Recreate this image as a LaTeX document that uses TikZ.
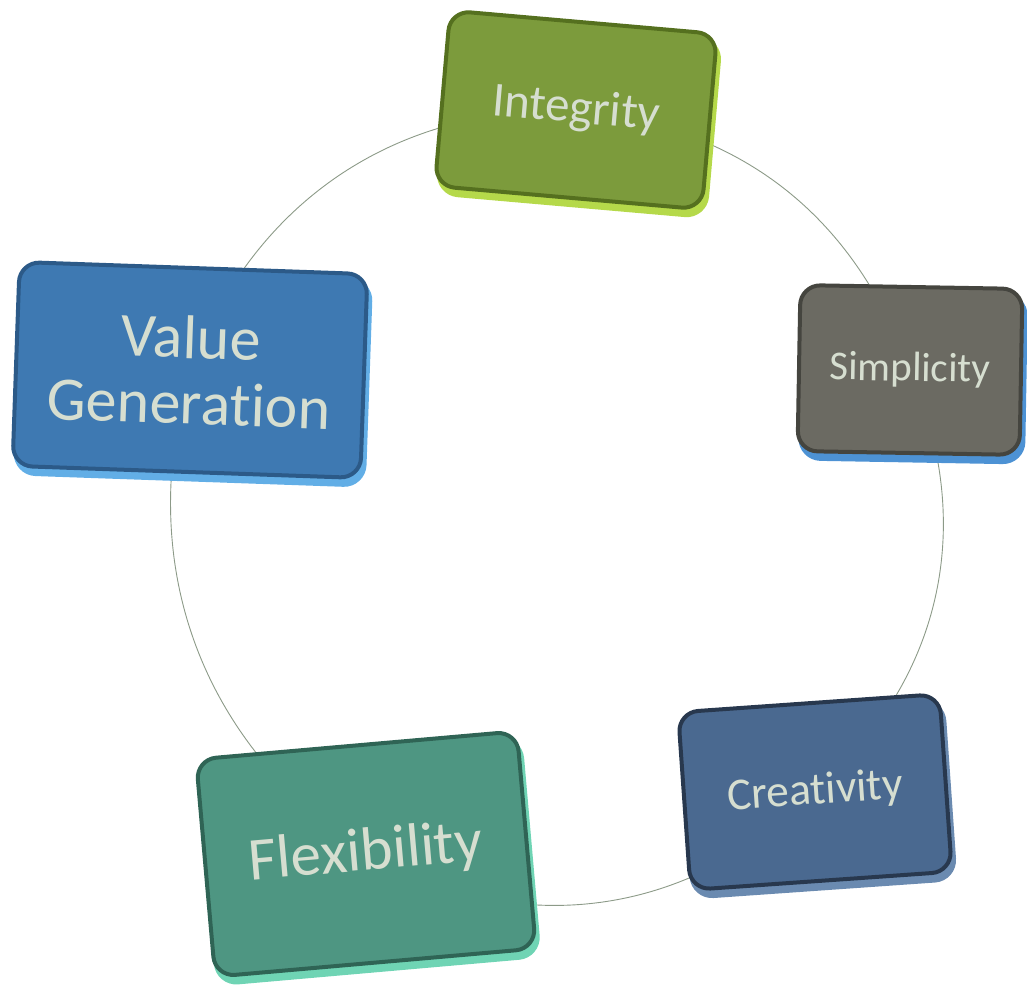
\documentclass[tikz,border=0pt]{standalone}
\usepackage{fontspec}
\setmainfont{Carlito}[Ligatures=NoCommon]
\usetikzlibrary{backgrounds}

\definecolor{txtcol}{HTML}{D6DED0}
\definecolor{ringcol}{HTML}{8C9A88}
% face / rim / bevel colours
\definecolor{intface}{HTML}{7C9B3C}
\definecolor{intrim}{HTML}{55701F}
\definecolor{intbevel}{HTML}{B5D94A}
\definecolor{simface}{HTML}{6B6A62}
\definecolor{simrim}{HTML}{45453F}
\definecolor{simbevel}{HTML}{4D92D4}
\definecolor{creface}{HTML}{4A6990}
\definecolor{crerim}{HTML}{28384E}
\definecolor{crebevel}{HTML}{6A8AB0}
\definecolor{flexface}{HTML}{4E9682}
\definecolor{flexrim}{HTML}{2F6455}
\definecolor{flexbevel}{HTML}{6FD4B4}
\definecolor{vgface}{HTML}{3E79B2}
\definecolor{vgrim}{HTML}{2C5A88}
\definecolor{vgbevel}{HTML}{62AEE6}

\tikzset{
  tile/.style n args={3}{rectangle, rounded corners=20pt, fill=#1, draw=#2,
    line width=4pt, text=txtcol, align=center, inner sep=0pt,
    preaction={fill=#3, draw=#3, line width=5pt,
      transform canvas={shift={(3pt,-7pt)}}}},
  ring/.style={draw=ringcol, line width=0.9pt}
}

\begin{document}
\begin{tikzpicture}[x=1pt, y=1pt]
    \useasboundingbox (0,0) rectangle (1027,990);

    % Boxes
    \node[tile={intface}{intrim}{intbevel}, rotate=-5,
          minimum width=268, minimum height=176,
          font=\fontsize{49}{54}\selectfont] (int) at (576,880) {Integrity};
    \node[tile={simface}{simrim}{simbevel}, rotate=-1,
          minimum width=222, minimum height=166,
          font=\fontsize{41}{46}\selectfont] (sim) at (910,620) {Simplicity};
    \node[tile={creface}{crerim}{crebevel}, rotate=4,
          minimum width=262, minimum height=178,
          font=\fontsize{45.5}{50}\selectfont] (cre) at (815,198) {Creativity};
    \node[tile={flexface}{flexrim}{flexbevel}, rotate=5,
          minimum width=322, minimum height=218,
          font=\fontsize{61}{66}\selectfont] (flex) at (366,136) {Flexibility};
    \node[tile={vgface}{vgrim}{vgbevel}, rotate=-2,
          minimum width=348, minimum height=204,
          font=\fontsize{62}{66}\selectfont] (vg) at (190,620) {Value\\Generation};

    % Ring behind the boxes
    \begin{scope}[on background layer]
      \foreach \a/\b/\ang in {int/sim/32, sim/cre/36, cre/flex/37, flex/vg/36, vg/int/35}
        \draw[ring] (\a.center) to[bend left=\ang] (\b.center);
    \end{scope}
\end{tikzpicture}
\end{document}
